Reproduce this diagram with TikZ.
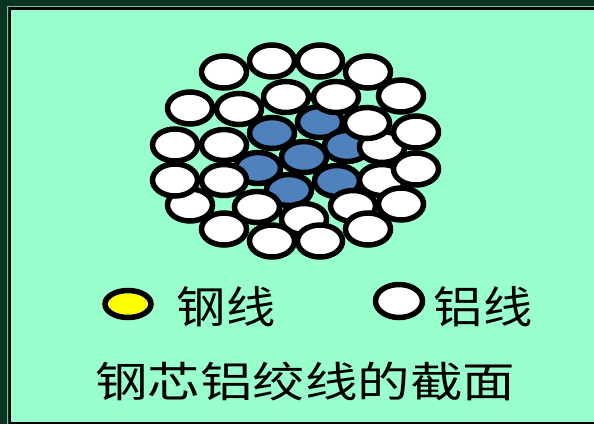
\documentclass[tikz,border=0pt]{standalone}
\usepackage{fontspec}
\newfontfamily\cjk{Noto Sans CJK SC}
\definecolor{mint}{HTML}{99FFCC}
\definecolor{framedark}{HTML}{0B3322}
\definecolor{frameline}{HTML}{66CC99}
\definecolor{corewire}{HTML}{4F81BD}
\definecolor{steel}{HTML}{FFFF00}
\tikzset{
  wire/.style={draw=black, line width=5.5pt, fill=white},
  corew/.style={wire, fill=corewire},
  label/.style={inner sep=0pt, text=black},
}
\begin{document}
\begin{tikzpicture}[x=1pt, y=-1pt]
% frame and background
\fill[framedark] (0,0) rectangle (594,424);
\fill[frameline] (7,5.5) rectangle (594,424);
\fill[framedark] (8,6.5) rectangle (594,424);
\fill[black] (9,7) rectangle (594,424);
\fill[mint] (11,10) rectangle (594,421.5);
\useasboundingbox (0,0) rectangle (594,424);

% steel core
\foreach \x/\y in {272/133, 320/122, 347/146, 337/181, 289/190, 258/168, 304/157}
  \draw[corew] (\x,\y) ellipse [x radius=22.5, y radius=15.5];

% inner aluminium layer
\foreach \x/\y in {382/147, 382/180, 336/97, 286/97, 367/123, 353/206, 304/219, 257/207, 224/180, 224/145, 239/109}
  \draw[wire] (\x,\y) ellipse [x radius=22.5, y radius=15.5];

% outer aluminium layer
\foreach \x/\y in {190/205, 175/180, 175/145, 190/108, 224/72, 272/61, 320/61, 368/72, 401/96, 416/132, 416/169, 401/204, 368/229, 320/241, 272/241, 224/229}
  \draw[wire] (\x,\y) ellipse [x radius=22.5, y radius=16];

% legend
\draw[wire, fill=steel] (128,304) ellipse [x radius=23, y radius=13.5];
\node[label] (steeltxt) at (226,307) {\scalebox{1.12}[1]{\fontsize{44}{44}\cjk 钢线}};
\draw[wire] (399,301) ellipse [x radius=23.5, y radius=16.5];
\node[label] (alutxt) at (483,307) {\scalebox{1.12}[1]{\fontsize{44}{44}\cjk 铝线}};

% caption
\node[label] (caption) at (305,381) {\scalebox{1.25}[1]{\fontsize{42}{42}\cjk 钢芯铝绞线的截面}};
\end{tikzpicture}
\end{document}
